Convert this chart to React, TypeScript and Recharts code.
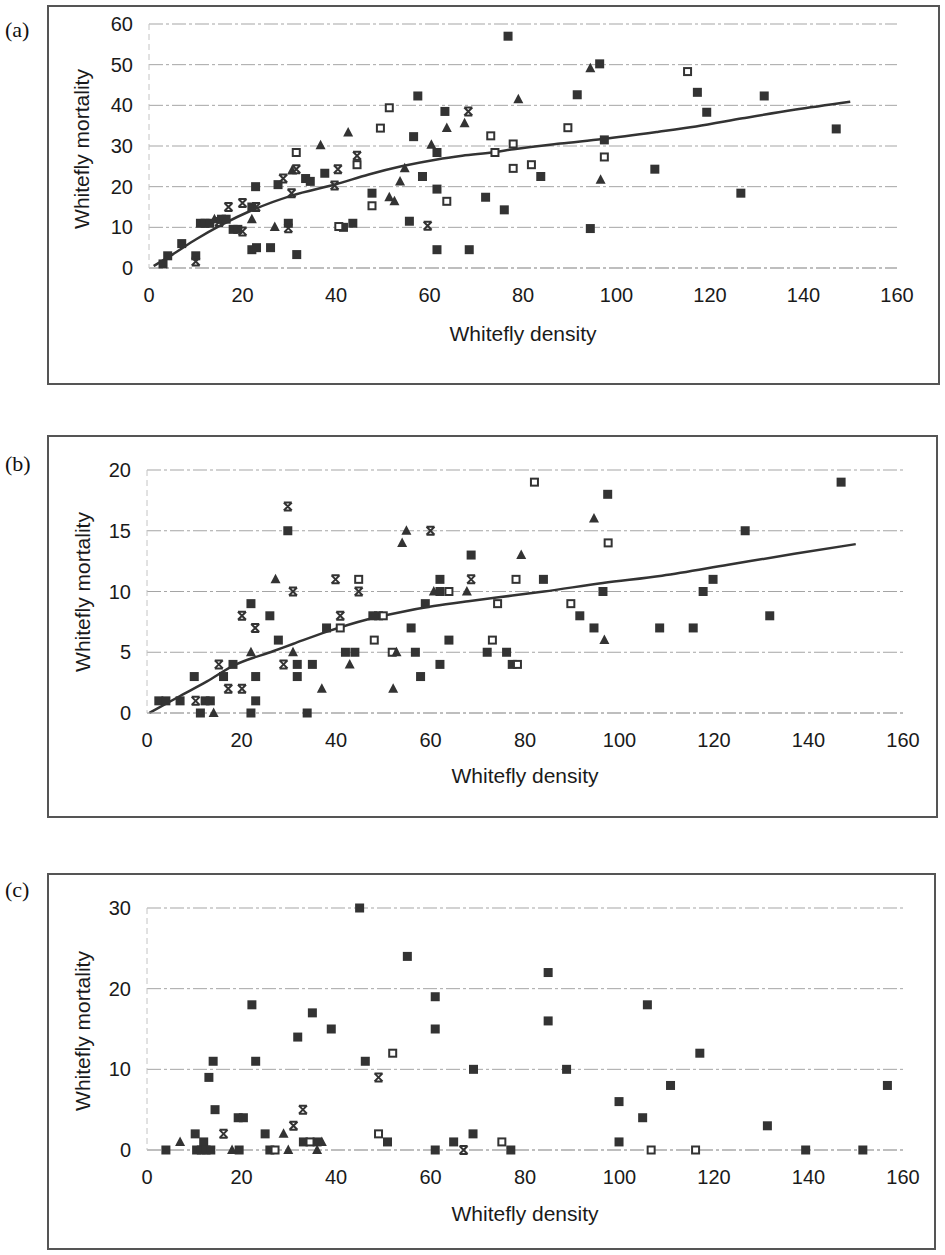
import React from "react";
import { ComposedChart, Scatter, Line, XAxis, YAxis, CartesianGrid } from "recharts";

// values: [density, mortality]
const xTicks = [0, 20, 40, 60, 80, 100, 120, 140, 160];

const yTicksA = [0, 10, 20, 30, 40, 50, 60];
const filledA = [
  [3, 1], [4, 3], [7, 6], [10, 3], [11, 11], [12, 11], [13, 11], [15.5, 12], [16.5, 12],
  [18, 9.5], [19, 9.5], [22, 15], [22.8, 20], [22, 4.5], [23, 5], [26, 5], [27.6, 20.5],
  [29.8, 11], [31.6, 3.3], [33.5, 22], [34.5, 21.3], [37.6, 23.3], [41.6, 10], [43.6, 11],
  [47.7, 18.4], [55.7, 11.5], [56.6, 32.3], [57.5, 42.3], [58.5, 22.5], [61.6, 4.5],
  [61.6, 19.4], [61.6, 28.4], [63.3, 38.5], [68.5, 4.5], [72, 17.4], [76, 14.3], [76.8, 57],
  [83.8, 22.5], [91.6, 42.6], [94.4, 9.7], [96.4, 50.2], [97.4, 31.5], [108.2, 24.3],
  [117.3, 43.2], [119.3, 38.3], [126.6, 18.4], [131.6, 42.3], [147, 34.2],
];
const openA = [
  [31.5, 28.4], [40.6, 10.2], [44.5, 25.4], [47.7, 15.3], [49.5, 34.4], [51.4, 39.4],
  [63.7, 16.4], [73.1, 32.5], [74, 28.4], [77.9, 30.5], [77.9, 24.5], [81.8, 25.4],
  [89.6, 34.5], [97.4, 27.3], [115.2, 48.3],
];
const triA = [
  [14, 12], [22, 12], [26.9, 10.1], [30.6, 24], [36.7, 30.2], [42.6, 33.3], [51.4, 17.4],
  [52.5, 16.4], [53.7, 21.3], [54.7, 24.5], [60.4, 30.3], [63.7, 34.4], [67.5, 35.6],
  [79, 41.5], [94.4, 49.1], [96.6, 21.7],
];
const crossA = [
  [10, 1.6], [15, 11.3], [17, 15], [20, 9], [20, 16], [22.9, 15], [28.7, 22], [29.8, 9.8],
  [30.5, 18.4], [31.5, 24.3], [39.7, 20.3], [40.4, 24.3], [44.5, 27.6], [59.6, 10.4], [68.3, 38.5],
];
const trendA = [
  [1, 0.5], [5, 3.3], [10, 7], [15.5, 10.6], [22, 14.2], [30.5, 17.8], [40, 20.6], [47, 23],
  [54, 25], [61.6, 26.7], [67, 27.6], [74, 28.5], [78, 29.2], [88, 30.6], [97, 31.7],
  [109, 33.5], [117, 34.8], [127, 36.8], [138, 38.9], [150, 40.9],
];

const yTicksB = [0, 5, 10, 15, 20];
const filledB = [
  [2.5, 1], [4, 1], [7, 1], [10, 3], [11.3, 0], [12.3, 1], [13.4, 1], [16.2, 3], [18.2, 4],
  [22, 9], [22, 0], [23, 3], [23, 1], [26, 8], [27.8, 6], [29.8, 15], [31.8, 4], [31.8, 3],
  [33.9, 0], [35, 4], [38, 7], [42, 5], [44, 5], [47.8, 8], [49, 8], [55.9, 7], [56.8, 5],
  [57.9, 3], [58.9, 9], [62, 10], [62, 11], [62, 4], [63.9, 6], [68.6, 13], [72, 5], [76.1, 5],
  [77.3, 4], [83.9, 11], [91.6, 8], [94.6, 7], [96.5, 10], [97.5, 18], [108.5, 7], [115.6, 7],
  [117.7, 10], [119.8, 11], [126.6, 15], [131.8, 8], [146.9, 19],
];
const openB = [
  [40.9, 7], [44.8, 11], [48.1, 6], [50, 8], [51.9, 5], [63.9, 10], [73.1, 6], [74.2, 9],
  [78.4, 4], [78.1, 11], [82, 19], [89.7, 9], [97.6, 14],
];
const triB = [
  [14.1, 0], [22, 5], [27.2, 11], [30.9, 5], [37, 2], [42.9, 4], [52.1, 2], [52.8, 5], [54, 14],
  [54.9, 15], [60.7, 10], [67.7, 10], [79.2, 13], [94.6, 16], [96.8, 6],
];
const crossB = [
  [10.3, 1], [15.2, 4], [17.2, 2], [20.1, 2], [20.1, 8], [22.9, 7], [28.9, 4], [29.8, 17],
  [30.9, 10], [39.9, 11], [40.9, 8], [44.8, 10], [60, 15], [68.6, 11],
];
const trendB = [
  [0.5, 0], [7, 1.4], [12.7, 2.6], [18.3, 3.9], [26.8, 5.1], [31, 5.7], [38.1, 6.7], [46.6, 7.7],
  [53.6, 8.3], [60.7, 8.8], [68, 9.2], [74, 9.5], [84, 10], [96.5, 10.7], [109, 11.3],
  [123, 12.2], [137, 13.1], [150, 13.9],
];

const yTicksC = [0, 10, 20, 30];
const filledC = [
  [4, 0], [10.2, 2], [10.5, 0], [11.5, 0], [12, 1], [12.5, 0], [13.5, 0], [13.1, 9], [14, 11],
  [14.4, 5], [19.5, 0], [19.3, 4], [20.4, 4], [22.2, 18], [23, 11], [25, 2], [26, 0], [31.9, 14],
  [33.1, 1], [35, 17], [36, 1], [39, 15], [45, 30], [46.2, 11], [50.9, 1], [55.1, 24], [61, 19],
  [61, 15], [61, 0], [64.9, 1], [69.1, 10], [69, 2], [77, 0], [84.9, 22], [84.9, 16], [88.8, 10],
  [99.9, 6], [99.9, 1], [104.9, 4], [105.9, 18], [110.8, 8], [117, 12], [131.3, 3], [139.4, 0],
  [151.5, 0], [156.7, 8],
];
const openC = [[27.1, 0], [34.5, 1], [49, 2], [52, 12], [75.1, 1], [106.7, 0], [116.1, 0]];
const triC = [[7, 1], [18, 0], [28.9, 2], [29.9, 0], [36, 0], [37, 1]];
const crossC = [[16.2, 2], [31, 3], [33, 5], [49, 9], [67, 0]];

const pts = (arr: number[][]) => arr.map(([x, y]) => ({ x, y }));

const FONT = '"Liberation Sans", Arial, sans-serif';
const INK = "#333";

const FilledSquare = (p: any) => <rect x={p.cx - 4.5} y={p.cy - 4.5} width={9} height={9} fill={INK} />;
const OpenSquare = (p: any) => (
  <rect x={p.cx - 3.5} y={p.cy - 3.5} width={7} height={7} fill="#fff" stroke={INK} strokeWidth={2} />
);
const Triangle = (p: any) => (
  <polygon points={`${p.cx},${p.cy - 5.5} ${p.cx + 5},${p.cy + 4} ${p.cx - 5},${p.cy + 4}`} fill={INK} />
);
const Cross = (p: any) => (
  <path
    d={`M${p.cx - 4},${p.cy - 4}H${p.cx + 4}M${p.cx - 4},${p.cy + 4}H${p.cx + 4}M${p.cx - 4},${p.cy - 4}L${p.cx + 4},${p.cy + 4}M${p.cx + 4},${p.cy - 4}L${p.cx - 4},${p.cy + 4}`}
    stroke={INK}
    strokeWidth={2}
    fill="none"
  />
);

function Panel({ label, box, chartTop, margin, height, yTicks, filled, open, tri, cross, trend, yTitle, xTitle, labelY }: any) {
  const yMax = yTicks[yTicks.length - 1];
  return (
    <>
      <div
        style={{
          position: "absolute",
          left: box[0],
          top: box[1],
          width: box[2],
          height: box[3],
          border: "2px solid #555",
          boxSizing: "border-box",
        }}
      />
      <div style={{ position: "absolute", left: 5, top: labelY, fontFamily: '"Liberation Serif", serif', fontSize: 22, color: "#111" }}>
        {label}
      </div>
      <div style={{ position: "absolute", left: 0, top: chartTop }}>
        <ComposedChart width={945} height={height} margin={margin}>
          <CartesianGrid horizontal vertical={false} stroke="#a5a5a5" strokeDasharray="14 3 3 3" />
          <XAxis
            type="number"
            dataKey="x"
            domain={[0, 160]}
            ticks={xTicks}
            height={60}
            tickSize={0}
            tickMargin={20}
            axisLine={{ stroke: "#aaa", strokeDasharray: "14 3 3 3" }}
            tick={{ fill: "#1a1a1a", fontSize: 20, fontFamily: FONT }}
          />
          <YAxis
            type="number"
            dataKey="y"
            domain={[0, yMax]}
            ticks={yTicks}
            width={60}
            tickSize={0}
            tickMargin={16}
            axisLine={{ stroke: "#c4c4c4", strokeDasharray: "6 4" }}
            tick={{ fill: "#1a1a1a", fontSize: 20, fontFamily: FONT }}
          />
          <Scatter data={pts(filled)} dataKey="y" shape={FilledSquare} isAnimationActive={false} />
          <Scatter data={pts(open)} dataKey="y" shape={OpenSquare} isAnimationActive={false} />
          <Scatter data={pts(tri)} dataKey="y" shape={Triangle} isAnimationActive={false} />
          <Scatter data={pts(cross)} dataKey="y" shape={Cross} isAnimationActive={false} />
          {trend && (
            <Line
              data={pts(trend)}
              dataKey="y"
              type="monotone"
              stroke={INK}
              strokeWidth={2.5}
              dot={false}
              activeDot={false}
              isAnimationActive={false}
            />
          )}
        </ComposedChart>
      </div>
      <div
        style={{
          position: "absolute",
          left: yTitle[0],
          top: yTitle[1],
          transform: "translate(-50%, -50%) rotate(-90deg)",
          whiteSpace: "nowrap",
          fontFamily: FONT,
          fontSize: 21,
          color: "#1a1a1a",
        }}
      >
        Whitefly mortality
      </div>
      <div
        style={{
          position: "absolute",
          left: xTitle[0],
          top: xTitle[1],
          transform: "translate(-50%, -50%)",
          whiteSpace: "nowrap",
          fontFamily: FONT,
          fontSize: 21,
          color: "#1a1a1a",
        }}
      >
        Whitefly density
      </div>
    </>
  );
}

export default function App() {
  return (
    <div style={{ position: "absolute", left: 0, top: 0, width: 945, height: 1255, background: "#fff", overflow: "hidden" }}>
      <Panel
        label="(a)"
        labelY={17}
        box={[47, 5, 893, 380]}
        chartTop={0}
        height={328}
        margin={{ top: 24, right: 48, bottom: 0, left: 89 }}
        yTicks={yTicksA}
        filled={filledA}
        open={openA}
        tri={triA}
        cross={crossA}
        trend={trendA}
        yTitle={[82, 149]}
        xTitle={[523, 334]}
      />
      <Panel
        label="(b)"
        labelY={451}
        box={[47, 435, 891, 383]}
        chartTop={440}
        height={333}
        margin={{ top: 30, right: 42, bottom: 0, left: 87 }}
        yTicks={yTicksB}
        filled={filledB}
        open={openB}
        tri={triB}
        cross={crossB}
        trend={trendB}
        yTitle={[83, 592]}
        xTitle={[525, 776]}
      />
      <Panel
        label="(c)"
        labelY={877}
        box={[47, 873, 889, 377]}
        chartTop={880}
        height={330}
        margin={{ top: 28, right: 42, bottom: 0, left: 87 }}
        yTicks={yTicksC}
        filled={filledC}
        open={openC}
        tri={triC}
        cross={crossC}
        trend={null}
        yTitle={[83, 1031]}
        xTitle={[525, 1214]}
      />
    </div>
  );
}
